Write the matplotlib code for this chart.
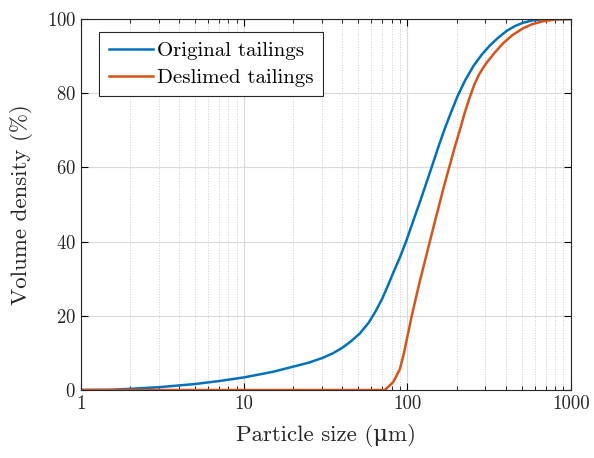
import numpy as np
import matplotlib
matplotlib.use("Agg")
import matplotlib.pyplot as plt
from matplotlib.ticker import LogLocator, FixedLocator, NullFormatter

plt.rcParams['font.family'] = ['cmr10', 'DejaVu Serif']
plt.rcParams['mathtext.fontset'] = 'cm'
plt.rcParams['axes.formatter.use_mathtext'] = True

# particle size (um) and cumulative volume (%)
size_orig = [1.0, 1.5, 2.0, 3.0, 5.0, 7.0, 10, 15, 20, 25, 30, 35, 40, 45, 51, 58,
             64, 70, 76, 82, 90, 98, 105, 113, 122, 130, 140, 154, 169, 185, 203,
             225, 253, 285, 320, 360, 405, 455, 511, 580, 677, 800, 1000]
vol_orig = [0, 0.05, 0.3, 0.75, 1.6, 2.4, 3.4, 4.9, 6.3, 7.4, 8.6, 9.9, 11.4, 13.1,
            15.2, 18.2, 21.3, 24.6, 28.2, 31.7, 35.8, 40.0, 43.8, 47.8, 52.0, 55.6,
            59.8, 65.3, 70.4, 74.9, 79.3, 83.4, 87.3, 90.4, 92.9, 95.0, 96.8, 98.1,
            99.0, 99.6, 99.95, 100, 100]

size_desl = [1.0, 72.7, 81.7, 89.8, 95, 100, 106, 112, 119, 128, 137, 147, 157,
             168, 180, 194, 209, 225, 241, 257, 274, 290, 305, 340, 386, 440, 511,
             580, 677, 800, 1000]
vol_desl = [0, 0, 2.1, 5.6, 9.8, 14.5, 19.8, 24.4, 29.3, 34.8, 40.0, 45.3, 50.2,
            55.2, 60.0, 65.2, 70.0, 75.0, 79.0, 82.4, 85.0, 86.8, 88.2, 90.8, 93.5,
            95.7, 97.5, 98.6, 99.4, 99.85, 100]

fig = plt.figure(figsize=(5.94, 4.58), dpi=100)
ax = fig.add_axes([0.136, 0.1485, 0.825, 0.81])

ax.plot(size_orig, vol_orig, color='#0072BD', lw=1.8, label='Original tailings')
ax.plot(size_desl, vol_desl, color='#D95319', lw=1.8, label='Deslimed tailings')

ax.set_xscale('log')
ax.set_xlim(1, 1000)
ax.set_ylim(0, 100)
ax.xaxis.set_major_locator(FixedLocator([1, 10, 100, 1000]))
ax.set_xticklabels(['1', '10', '100', '1000'])
ax.xaxis.set_minor_locator(LogLocator(base=10, subs=np.arange(2, 10), numticks=20))
ax.xaxis.set_minor_formatter(NullFormatter())
ax.set_yticks([0, 20, 40, 60, 80, 100])

ax.grid(True, which='major', color='#dadada', lw=0.8, ls='-')
ax.grid(True, which='minor', axis='x', color='#cccccc', lw=0.7, ls=':')
ax.set_axisbelow(True)

ax.tick_params(which='both', direction='in', top=True, right=True, labelsize=13.5,
               labelcolor='#262626')
ax.tick_params(which='major', length=5, width=0.8)
ax.tick_params(which='minor', length=3, width=0.6)
for s in ax.spines.values():
    s.set_linewidth(0.8)
    s.set_color('#262626')

ax.set_xlabel('Particle size (\u03bcm)', fontsize=16.5, color='#262626', labelpad=8)
ax.set_ylabel('Volume density (%)', fontsize=16.5, color='#262626', labelpad=10)

leg = ax.legend(loc='upper left', bbox_to_anchor=(0.038, 0.965), fontsize=15,
                fancybox=False, framealpha=1, edgecolor='#262626',
                handlelength=2.1, handletextpad=0.2, borderpad=0.45,
                labelspacing=0.4, borderaxespad=0)
leg.get_frame().set_linewidth(0.8)

fig.savefig('out.png', dpi=100)
